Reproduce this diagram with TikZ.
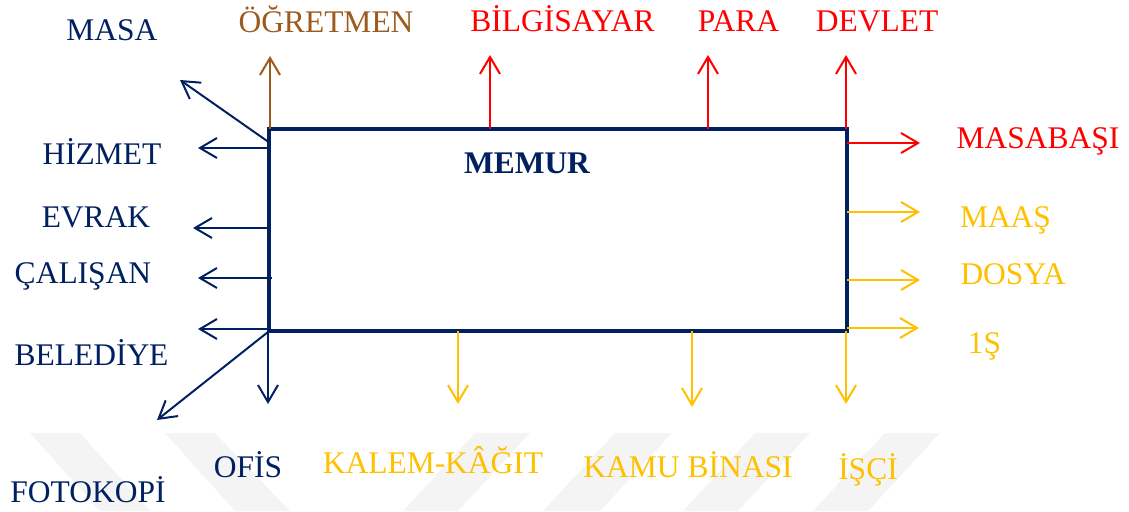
\documentclass[tikz,border=0pt]{standalone}
\usepackage{fontspec}
\setmainfont{Liberation Serif}
\usetikzlibrary{arrows.meta}
\definecolor{navy}{HTML}{002060}
\definecolor{myred}{HTML}{FF0000}
\definecolor{gold}{HTML}{FFC000}
\definecolor{mybrown}{HTML}{9C5A1E}
\definecolor{wmark}{HTML}{F4F4F4}
\begin{document}
\begin{tikzpicture}[x=1pt,y=-1pt,
  lbl/.style={font=\fontsize{31.5}{34}\selectfont, inner sep=0pt, anchor=base},
  arr/.style={line width=2pt, -{Straight Barb[length=17pt,width=20pt]}},
  stripe/.style={fill=wmark, draw=none}]
\useasboundingbox (0,0) rectangle (1129,511);
% watermark stripes
\fill[stripe] (30,433) -- (80,433) -- (150,511) -- (100,511) -- cycle;
\fill[stripe] (165,433) -- (215,433) -- (290,511) -- (235,511) -- cycle;
\fill[stripe] (475,433) -- (530,433) -- (458,511) -- (403,511) -- cycle;
\fill[stripe] (615,433) -- (672,433) -- (600,511) -- (543,511) -- cycle;
\fill[stripe] (755,433) -- (810,433) -- (738,511) -- (683,511) -- cycle;
\fill[stripe] (885,433) -- (940,433) -- (868,511) -- (813,511) -- cycle;
% box
\node[draw=navy, line width=4pt, minimum width=578pt, minimum height=202pt, inner sep=0pt, outer sep=0pt] (box) at (558,230) {};
\node[font=\fontsize{31.5}{34}\selectfont\bfseries, text=navy, inner sep=0pt, anchor=base] (memur) at (527,173) {MEMUR};
% start coordinates
\coordinate (sOg) at (270,129);
\coordinate (sBi) at (490,129);
\coordinate (sPa) at (708,129);
\coordinate (sDe) at (846,129);
\coordinate (sMb) at (847,143);
\coordinate (sMa) at (847,212);
\coordinate (sDo) at (847,280);
\coordinate (sIs) at (847,328);
\coordinate (sIc) at (846,331);
\coordinate (sKa) at (692,331);
\coordinate (sKl) at (458,331);
\coordinate (sOf) at (268,332);
\coordinate (sFo) at (268,332);
\coordinate (sBe) at (269,329);
\coordinate (sCa) at (272,278);
\coordinate (sEv) at (269,228);
\coordinate (sHi) at (269,148);
\coordinate (sMs) at (270,143);
% end coordinates
\coordinate (eOg) at (270,56);
\coordinate (eBi) at (490,55);
\coordinate (ePa) at (708,55);
\coordinate (eDe) at (846,55);
\coordinate (eMb) at (920,143);
\coordinate (eMa) at (920,212);
\coordinate (eDo) at (920,280);
\coordinate (eIs) at (919,328);
\coordinate (eIc) at (846,404);
\coordinate (eKa) at (692,407);
\coordinate (eKl) at (458,404);
\coordinate (eOf) at (268,404);
\coordinate (eFo) at (157,420);
\coordinate (eBe) at (198,329);
\coordinate (eCa) at (198,278);
\coordinate (eEv) at (193,228);
\coordinate (eHi) at (198,148);
\coordinate (eMs) at (180,80);
% arrows
\draw[arr, mybrown] (sOg) -- (eOg);
\draw[arr, myred] (sBi) -- (eBi);
\draw[arr, myred] (sPa) -- (ePa);
\draw[arr, myred] (sDe) -- (eDe);
\draw[arr, myred] (sMb) -- (eMb);
\draw[arr, gold] (sMa) -- (eMa);
\draw[arr, gold] (sDo) -- (eDo);
\draw[arr, gold] (sIs) -- (eIs);
\draw[arr, gold] (sIc) -- (eIc);
\draw[arr, gold] (sKa) -- (eKa);
\draw[arr, gold] (sKl) -- (eKl);
\draw[arr, navy] (sOf) -- (eOf);
\draw[arr, navy] (sFo) -- (eFo);
\draw[arr, navy] (sBe) -- (eBe);
\draw[arr, navy] (sCa) -- (eCa);
\draw[arr, navy] (sEv) -- (eEv);
\draw[arr, navy] (sHi) -- (eHi);
\draw[arr, navy] (sMs) -- (eMs);
% labels
\node[lbl, text=navy] (masa) at (112,41) {MASA};
\node[lbl, text=mybrown] (ogretmen) at (326,33) {ÖĞRETMEN};
\node[lbl, text=myred] (bilgisayar) at (562.5,32) {BİLGİSAYAR};
\node[lbl, text=myred] (para) at (738.5,32) {PARA};
\node[lbl, text=myred] (devlet) at (877,32) {DEVLET};
\node[lbl, text=myred] (masabasi) at (1038,148) {MASABAŞI};
\node[lbl, text=gold] (maas) at (1005.5,227) {MAAŞ};
\node[lbl, text=gold] (dosya) at (1013,284) {DOSYA};
\node[lbl, text=gold] (is) at (984.5,353) {1Ş};
\node[lbl, text=gold] (isci) at (868,479) {İŞÇİ};
\node[lbl, text=gold] (kamu) at (688,477) {KAMU BİNASI};
\node[lbl, text=gold] (kalem) at (433,473) {KALEM-KÂĞIT};
\node[lbl, text=navy] (ofis) at (248,477) {OFİS};
\node[lbl, text=navy] (fotokopi) at (88,502) {FOTOKOPİ};
\node[lbl, text=navy] (belediye) at (91.5,365) {BELEDİYE};
\node[lbl, text=navy] (calisan) at (83,283) {ÇALIŞAN};
\node[lbl, text=navy] (evrak) at (96,227) {EVRAK};
\node[lbl, text=navy] (hizmet) at (102,164) {HİZMET};
\end{tikzpicture}
\end{document}
